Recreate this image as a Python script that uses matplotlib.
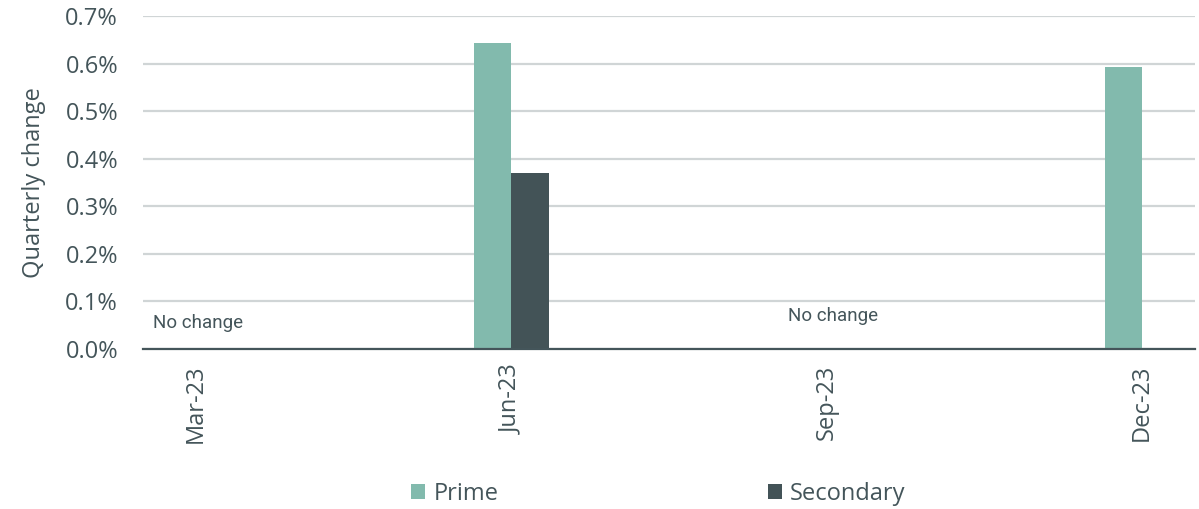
import numpy as np
import matplotlib.pyplot as plt
from matplotlib.ticker import FuncFormatter

quarters = ["Mar-23", "Jun-23", "Sep-23", "Dec-23"]
prime = [0.0, 0.643, 0.0, 0.593]
secondary = [0.0, 0.37, 0.0, 0.0]
notes = [(0, "No change"), (2, "No change")]

col_prime = "#82baad"
col_sec = "#435357"
col_text = "#44555a"

plt.rcParams['font.family'] = ['Open Sans', 'DejaVu Sans']

fig = plt.figure(figsize=(11.99, 5.09), dpi=100)
ax = fig.add_axes([0.1193, 0.3143, 0.8774, 0.6543])

x = np.arange(len(quarters))
w = 0.119
ax.bar(x - w / 2, prime, w, color=col_prime, label="Prime", zorder=3)
ax.bar(x + w / 2, secondary, w, color=col_sec, label="Secondary", zorder=3)

ax.set_xlim(-0.168, 3.168)
ax.set_ylim(0, 0.7)
ax.set_yticks(np.arange(0, 0.71, 0.1))
ax.yaxis.set_major_formatter(FuncFormatter(lambda v, p: f"{v:.1f}%"))
ax.set_xticks(x)
ax.set_xticklabels(quarters, rotation=90)
ax.tick_params(axis='both', length=0, labelsize=17, colors=col_text)
ax.tick_params(axis='x', pad=11)
ax.tick_params(axis='y', pad=18)
ax.set_ylabel("Quarterly change", fontsize=17, color=col_text, labelpad=14)

ax.grid(axis='y', color="#d0d5d6", linewidth=1.6, zorder=0)
for s in ['top', 'right', 'left']:
    ax.spines[s].set_visible(False)
ax.spines['bottom'].set_color(col_text)
ax.spines['bottom'].set_linewidth(1.6)
ax.spines['bottom'].set_zorder(4)

# "No change" notes
ax.text(-0.136, 0.055, notes[0][1], fontsize=13.5, color=col_text,
        family=['Roboto', 'DejaVu Sans'], va='center', ha='left')
ax.text(2.02, 0.069, notes[1][1], fontsize=13.5, color=col_text,
        family=['Roboto', 'DejaVu Sans'], va='center', ha='center')

leg = fig.legend(loc='center', bbox_to_anchor=(0.549, 0.029), ncol=2, frameon=False,
                 fontsize=17, handlelength=0.6, handleheight=0.6,
                 handletextpad=0.35, columnspacing=11.4)
for t in leg.get_texts():
    t.set_color(col_text)

fig.savefig("out.png", dpi=100)
